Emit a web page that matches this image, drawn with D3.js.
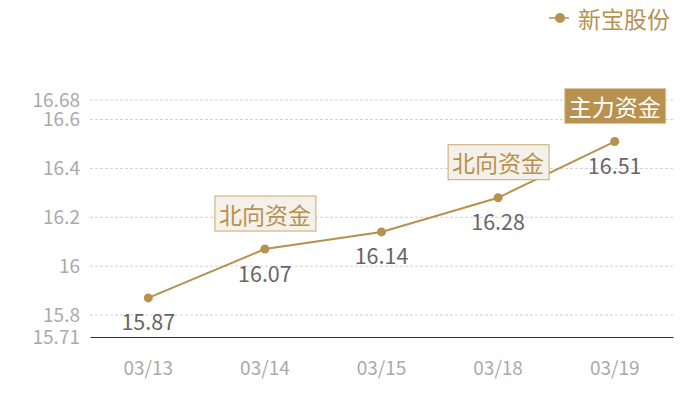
<!DOCTYPE html>
<html>
<head>
<meta charset="utf-8">
<script src="https://cdn.jsdelivr.net/npm/d3@7"></script>
<style>
  html, body { margin: 0; padding: 0; background: #fff; }
  svg { display: block; font-family: "Noto Sans CJK SC", "Noto Sans", sans-serif; }
</style>
</head>
<body>
<svg id="chart" width="700" height="400"></svg>
<script>
const categories = ["03/13", "03/14", "03/15", "03/18", "03/19"];
const values = [15.87, 16.07, 16.14, 16.28, 16.51];
const yTicks = [15.71, 15.8, 16, 16.2, 16.4, 16.6, 16.68];
const seriesName = "新宝股份";
const annotations = [
  { cat: "03/14", text: "北向资金", filled: false },
  { cat: "03/18", text: "北向资金", filled: false },
  { cat: "03/19", text: "主力资金", filled: true }
];

const gold = "#b8914f";
const svg = d3.select("#chart");
const margin = { left: 90, right: 27, top: 100, bottom: 63 };
const W = 700, H = 400;

const x = d3.scaleBand().domain(categories).range([margin.left, W - margin.right]).padding(0);
const y = d3.scaleLinear().domain([15.71, 16.68]).range([H - margin.bottom, margin.top]);

// grid lines
svg.append("g").selectAll("line")
  .data(yTicks.filter(t => t !== 15.71))
  .join("line")
  .attr("x1", margin.left).attr("x2", W - margin.right)
  .attr("y1", d => y(d)).attr("y2", d => y(d))
  .attr("stroke", "#d0d0d0").attr("stroke-dasharray", "3,2").attr("stroke-width", 1);

// y axis labels
const yAxis = d3.axisLeft(y).tickValues(yTicks).tickSize(0).tickPadding(10).tickFormat(d => String(d));
const ya = svg.append("g").attr("transform", `translate(${margin.left},0)`).call(yAxis);
ya.select(".domain").remove();
ya.selectAll("text").attr("fill", "#aaaaaa").attr("font-size", 19).attr("font-family", "'Noto Sans CJK SC', sans-serif");

// x axis
const xAxis = d3.axisBottom(x).tickSize(0).tickPadding(25);
const xa = svg.append("g").attr("transform", `translate(0,${y(15.71)})`).call(xAxis);
xa.select(".domain").attr("stroke", "#333").attr("stroke-width", 1.2);
xa.selectAll("text").attr("fill", "#aaaaaa").attr("font-size", 19).attr("font-family", "'Noto Sans CJK SC', sans-serif");

const cx = c => x(c) + x.bandwidth() / 2;
const data = categories.map((c, i) => ({ c, v: values[i] }));

// line
svg.append("path").datum(data)
  .attr("fill", "none").attr("stroke", gold).attr("stroke-width", 2)
  .attr("d", d3.line().x(d => cx(d.c)).y(d => y(d.v)));

svg.append("g").selectAll("circle").data(data).join("circle")
  .attr("cx", d => cx(d.c)).attr("cy", d => y(d.v)).attr("r", 4.5).attr("fill", gold);

// value labels
svg.append("g").selectAll("text").data(data).join("text")
  .attr("x", d => cx(d.c)).attr("y", d => y(d.v) + 23)
  .attr("text-anchor", "middle").attr("dominant-baseline", "central")
  .attr("fill", "#666").attr("font-size", 21.5)
  .text(d => d.v.toFixed(2));

// annotations
const ann = svg.append("g").selectAll("g").data(annotations).join("g")
  .attr("transform", d => {
    const v = values[categories.indexOf(d.cat)];
    return `translate(${cx(d.cat)},${y(v) - 18})`;
  });
ann.append("rect")
  .attr("x", -50).attr("y", -35).attr("width", 101).attr("height", 35)
  .attr("fill", d => d.filled ? gold : "#f4f0ea")
  .attr("stroke", d => d.filled ? "#d9c7a6" : "#c9a86f").attr("stroke-width", 1);
ann.append("text")
  .attr("x", 0).attr("y", -17.5)
  .attr("text-anchor", "middle").attr("dominant-baseline", "central")
  .attr("font-size", 23)
  .attr("fill", d => d.filled ? "#fff" : gold)
  .text(d => d.text);

// legend
const lg = svg.append("g").attr("transform", "translate(549,18)");
lg.append("line").attr("x1", 0).attr("x2", 20).attr("y1", 0).attr("y2", 0).attr("stroke", gold).attr("stroke-width", 1.5);
lg.append("circle").attr("cx", 11).attr("cy", 0).attr("r", 5).attr("fill", gold);
lg.append("text").attr("x", 29).attr("y", 0).attr("dominant-baseline", "central")
  .attr("font-size", 23).attr("fill", gold).text(seriesName);
</script>
</body>
</html>
